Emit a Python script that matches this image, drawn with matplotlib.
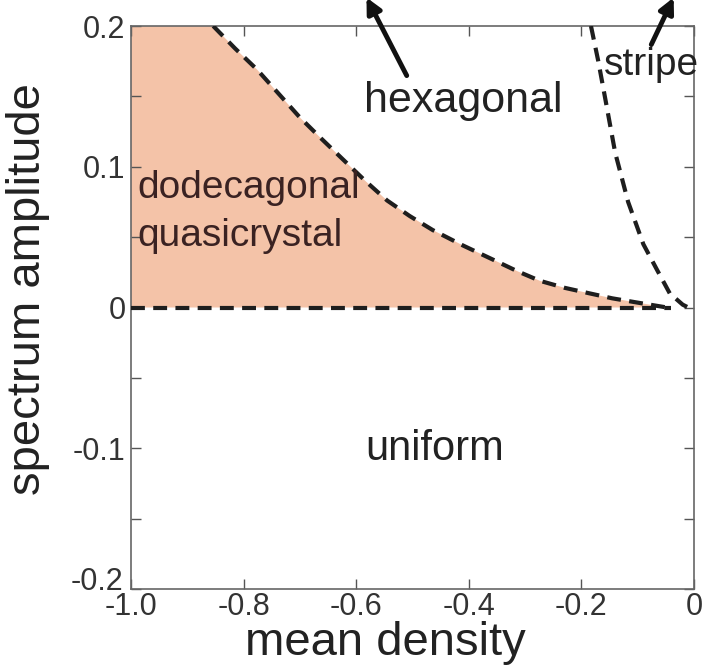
import matplotlib
matplotlib.use("Agg")
import matplotlib.pyplot as plt
import matplotlib.transforms as mtransforms
import numpy as np

plt.rcParams['font.family'] = ['Liberation Sans', 'DejaVu Sans']
plt.rcParams['lines.scale_dashes'] = False

# Phase boundary: hexagonal / dodecagonal quasicrystal
hex_x = [-0.854, -0.815, -0.776, -0.738, -0.700, -0.662, -0.623, -0.584, -0.545, -0.505,
         -0.464, -0.410, -0.357, -0.315, -0.274, -0.230, -0.185, -0.145, -0.108, -0.075, -0.048, -0.040]
hex_y = [0.200, 0.184, 0.169, 0.152, 0.135, 0.120, 0.105, 0.090, 0.076, 0.065,
         0.055, 0.044, 0.034, 0.026, 0.019, 0.014, 0.010, 0.0065, 0.004, 0.0018, 0.000, -0.002]
# Phase boundary: stripe / hexagonal
stripe_x = [-0.183, -0.170, -0.157, -0.140, -0.117, -0.090, -0.066, -0.043, -0.020, -0.010]
stripe_y = [0.200, 0.175, 0.147, 0.110, 0.075, 0.045, 0.027, 0.010, 0.002, 0.000]
# Zero-amplitude boundary (uniform)
zero_x = [-1.0, -0.040]
zero_y = [0.0, 0.0]

xticks = [-1.0, -0.8, -0.6, -0.4, -0.2, 0.0]
xticklabels = ['-1.0', '-0.8', '-0.6', '-0.4', '-0.2', '0']
yticks = [-0.2, -0.15, -0.1, -0.05, 0.0, 0.05, 0.1, 0.15, 0.2]
yticklabels = ['-0.2', '', '-0.1', '', '0', '', '0.1', '', '0.2']

fig = plt.figure(figsize=(7.08, 6.68), dpi=100)
ax = fig.add_axes([131/708, 79/668, 563/708, 563/668])
ax.set_xlim(-1.0, 0.0)
ax.set_ylim(-0.2, 0.2)

# filled region (dodecagonal quasicrystal)
fx = [-1.0] + hex_x[:-1] + [hex_x[-2], -1.0]
fy = [0.2] + hex_y[:-1] + [0.0, 0.0]
ax.fill(fx, fy, color='#f4c3a8', lw=0, zorder=1)

dash = (0, (10, 6))
ax.plot(hex_x, hex_y, color='#1e1e1e', lw=3, linestyle=dash, zorder=3)
ax.plot(stripe_x, stripe_y, color='#1e1e1e', lw=3, linestyle=dash, zorder=3)
ax.plot(zero_x, zero_y, color='#1e1e1e', lw=3, linestyle=dash, zorder=3)

ax.set_xticks(xticks)
ax.set_xticklabels(xticklabels)
ax.set_yticks(yticks)
ax.set_yticklabels(yticklabels)
ax.tick_params(direction='in', top=True, right=True, length=7, width=1.0,
               color='#555555', labelsize=22, labelcolor='#333333')
ax.tick_params(axis='x', pad=2)
ax.tick_params(axis='y', pad=4)
for s in ax.spines.values():
    s.set_color('#666666')
    s.set_linewidth(1.2)

# lift the lowest y label a little, as in the reference
lbl = ax.get_yticklabels()[0]
lbl.set_transform(lbl.get_transform() + mtransforms.ScaledTranslation(-2/100, 11/100, fig.dpi_scale_trans))

ax.text(-0.409, 0.139, 'hexagonal', fontsize=31, color='#222222', ha='center', va='baseline')
ax.text(-0.989, 0.078, 'dodecagonal', fontsize=28, color='#3a2222', ha='left', va='baseline')
ax.text(-0.989, 0.044, 'quasicrystal', fontsize=28, color='#3a2222', ha='left', va='baseline')
ax.text(-0.46, -0.108, 'uniform', fontsize=30, color='#222222', ha='center', va='baseline')
ax.text(-0.160, 0.165, 'stripe', fontsize=28, color='#222222', ha='left', va='baseline')

ax.annotate('', xy=(-0.584, 0.222), xytext=(-0.508, 0.163), xycoords='data',
            arrowprops=dict(arrowstyle='-|>,head_length=0.9,head_width=0.45', lw=3.5, color='#111111'),
            annotation_clip=False, zorder=5)
ax.annotate('', xy=(-0.034, 0.222), xytext=(-0.078, 0.185), xycoords='data',
            arrowprops=dict(arrowstyle='-|>,head_length=0.9,head_width=0.45', lw=3.5, color='#111111'),
            annotation_clip=False, zorder=5)

fig.text(385/708, 13/668, 'mean density', fontsize=34, color='#222222', ha='center', va='baseline')
fig.text(28/708, (668-289)/668, 'spectrum amplitude', fontsize=34, color='#222222',
         ha='center', va='center', rotation=90)

fig.savefig('out.png', dpi=100)
